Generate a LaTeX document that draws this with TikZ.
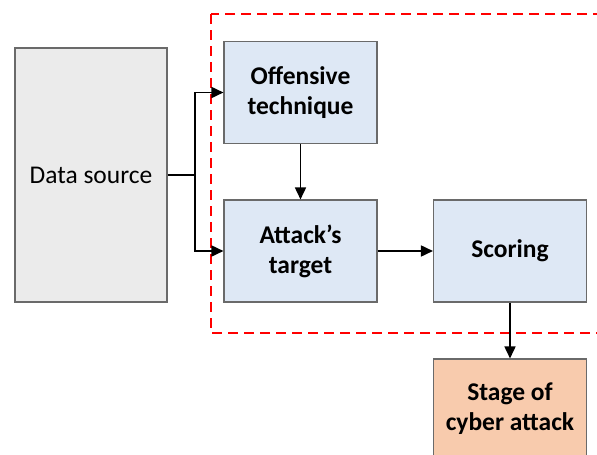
\documentclass[tikz,border=0pt]{standalone}
\usepackage{fontspec}
\setmainfont{Carlito}
\usetikzlibrary{arrows.meta}

\definecolor{boxblue}{HTML}{DEE8F5}
\definecolor{boxgray}{HTML}{EBEBEB}
\definecolor{boxorange}{HTML}{F8CBAD}
\definecolor{boxline}{HTML}{6A6A6A}

\begin{document}
\begin{tikzpicture}[x=1pt,y=-1pt,
  stepbox/.style={draw=boxline, line width=1.1pt, fill=boxblue, minimum width=153pt,
    minimum height=102pt, align=center, font=\fontsize{25.5}{30}\selectfont\bfseries},
  arr/.style={-{Triangle[length=12pt,width=11pt]}, line width=1.7pt}]

\useasboundingbox (0,0) rectangle (597,455);
\clip (0,0) rectangle (597,455);

% dashed frame
\draw[red, line width=1.4pt, dash pattern=on 10pt off 6pt] (211,14) rectangle (640,333);

% boxes
\node[draw=boxline, line width=1.1pt, fill=boxgray, minimum width=152pt, minimum height=254pt,
  font=\fontsize{25.5}{30}\selectfont] (src) at (91,175) {Data source};
\node[stepbox] (tech) at (300.5,92.5) {Offensive\\technique};
\node[stepbox] (target) at (300.5,251) {Attack’s\\target};
\node[stepbox] (score) at (510,251) {Scoring};
\node[stepbox, fill=boxorange, minimum height=100pt] (stage) at (510,409) {Stage of\\cyber attack};

% connectors
\coordinate (split) at (195,175);
\draw[arr] (src.east) -- (split) |- (tech.west);
\draw[arr] (split) |- (target.west);
\draw[arr] (tech) -- (target);
\draw[arr] (target) -- (score);
\draw[arr] (score) -- (stage);

\end{tikzpicture}
\end{document}
